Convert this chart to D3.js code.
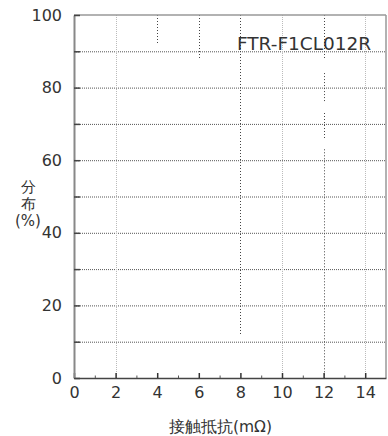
<!DOCTYPE html>
<html>
<head>
<meta charset="utf-8">
<script src="https://cdn.jsdelivr.net/npm/d3@7"></script>
<style>
  html, body { margin: 0; padding: 0; background: #fff; }
  svg { display: block; }
  text { font-family: "DejaVu Sans", sans-serif; fill: #333; }
</style>
</head>
<body>
<svg id="chart" width="388" height="436"></svg>
<script>
// ---- data ----
const title = "FTR-F1CL012R";
const xTickValues = [0, 2, 4, 6, 8, 10, 12, 14];
const xMinorTicks = [1, 3, 5, 7, 9, 11, 13];
const yTickValues = [0, 20, 40, 60, 80, 100];
const yGridValues = [10, 20, 30, 40, 50, 60, 70, 80, 90];
const lightGridX = [2, 10, 14];
// distribution range segments (resistance mΩ, low %, high %)
const rangeX = [4, 6, 8, 12, 12, 12, 12];
const rangeLow = [92, 88, 12, 88, 76, 66, 0];
const rangeHigh = [100, 100, 100, 100, 84, 73, 63];
const xLabel = "接触抵抗(mΩ)";
const yLabelLines = ["分", "布", "(%)"];

// ---- layout ----
const svg = d3.select("#chart");
const x = d3.scaleLinear().domain([0, 15]).range([74, 386]);
const y = d3.scaleLinear().domain([0, 100]).range([378, 15]);

// horizontal grid
svg.append("g").selectAll("line").data(yGridValues).join("line")
  .attr("x1", x(0)).attr("x2", x(15))
  .attr("y1", d => y(d) + 0.5).attr("y2", d => y(d) + 0.5)
  .attr("stroke", "#555").attr("stroke-width", 1).attr("stroke-dasharray", "1,1");

// light vertical grid
svg.append("g").selectAll("line").data(lightGridX).join("line")
  .attr("x1", d => Math.round(x(d)) + 0.5).attr("x2", d => Math.round(x(d)) + 0.5)
  .attr("y1", y(0)).attr("y2", y(100))
  .attr("stroke", "#bbb").attr("stroke-width", 1).attr("stroke-dasharray", "1,1");

// range segments
svg.append("g").selectAll("line").data(rangeX.map((v, i) => ({x: v, lo: rangeLow[i], hi: rangeHigh[i]}))).join("line")
  .attr("x1", d => Math.round(x(d.x)) + 0.5).attr("x2", d => Math.round(x(d.x)) + 0.5)
  .attr("y1", d => y(d.hi)).attr("y2", d => y(d.lo))
  .attr("stroke", "#444").attr("stroke-width", 1).attr("stroke-dasharray", "1,2");

// frame (top & right)
svg.append("line").attr("x1", x(0)).attr("x2", x(15)).attr("y1", y(100)).attr("y2", y(100))
  .attr("stroke", "#999").attr("stroke-width", 1.5);
svg.append("line").attr("x1", x(15)).attr("x2", x(15)).attr("y1", y(100)).attr("y2", y(0))
  .attr("stroke", "#999").attr("stroke-width", 1.5);

// x axis
const xAxis = d3.axisBottom(x).tickValues(xTickValues).tickSizeInner(-5).tickSizeOuter(0).tickPadding(9);
const gx = svg.append("g").attr("transform", `translate(0,${y(0)})`).call(xAxis);
gx.select(".domain").attr("stroke", "#444").attr("stroke-width", 1.5);
gx.selectAll(".tick line").attr("stroke", "#333").attr("stroke-width", 1.5);
gx.selectAll(".tick text").attr("font-size", 16).attr("font-family", "DejaVu Sans").attr("fill", "#333");

const xMinor = d3.axisBottom(x).tickValues(xMinorTicks).tickSize(-2.5).tickFormat("");
const gxm = svg.append("g").attr("transform", `translate(0,${y(0)})`).call(xMinor);
gxm.select(".domain").remove();
gxm.selectAll(".tick line").attr("stroke", "#555");

// y axis
const yAxis = d3.axisLeft(y).tickValues([0,10,20,30,40,50,60,70,80,90,100])
  .tickSizeInner(-6).tickSizeOuter(0).tickPadding(12)
  .tickFormat(d => yTickValues.includes(d) ? d : "");
const gy = svg.append("g").attr("transform", `translate(${x(0)},0)`).call(yAxis);
gy.select(".domain").attr("stroke", "#888").attr("stroke-width", 2);
gy.selectAll(".tick line").attr("stroke", "#444").attr("stroke-width", 1.5);
gy.selectAll(".tick text").attr("font-size", 16).attr("font-family", "DejaVu Sans").attr("fill", "#333");

// title
svg.append("text").attr("x", 237).attr("y", 50).attr("font-size", 18.5).text(title);

// y label
svg.append("g").selectAll("text").data(yLabelLines).join("text")
  .attr("x", 28).attr("y", (d, i) => 192 + i * 17)
  .attr("text-anchor", "middle")
  .attr("font-family", "'Noto Sans CJK JP', sans-serif")
  .attr("font-size", 15).text(d => d);

// x label
svg.append("text").attr("x", 220.5).attr("y", 432)
  .attr("text-anchor", "middle")
  .attr("font-family", "'Noto Sans CJK JP', sans-serif")
  .attr("font-size", 15.5).text(xLabel);
</script>
</body>
</html>
